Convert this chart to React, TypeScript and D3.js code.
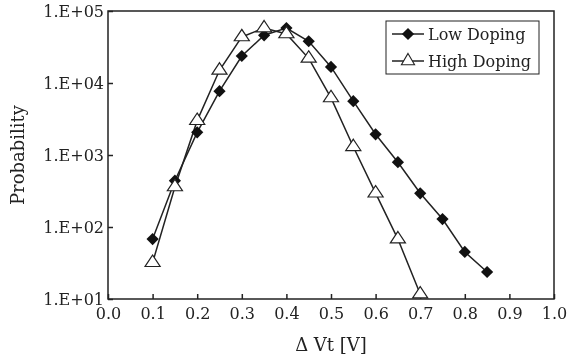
import * as d3 from "d3";
import React, { useEffect, useRef } from "react";

const xValues = [0.1, 0.15, 0.2, 0.25, 0.3, 0.35, 0.4, 0.45, 0.5, 0.55, 0.6, 0.65, 0.7, 0.75, 0.8, 0.85];
const lowDoping = [68, 440, 2065, 7700, 23700, 46000, 58000, 38000, 16700, 5600, 1940, 794, 294, 129, 45, 23.7];
const highDoping = [32, 360, 3000, 15000, 43600, 58000, 48000, 22000, 6200, 1300, 295, 68, 11.7];
const xTicks = [0, 0.1, 0.2, 0.3, 0.4, 0.5, 0.6, 0.7, 0.8, 0.9, 1.0];
const yTicks = [10, 100, 1000, 10000, 100000];
const yTickLabels = ["1.E+01", "1.E+02", "1.E+03", "1.E+04", "1.E+05"];

const App = () => {
  const svgRef = useRef<SVGSVGElement>(null);

  useEffect(() => {
    const svg = d3.select(svgRef.current);
    svg.selectAll("*").remove();
    const width = 567;
    const height = 360;
    const margin = { top: 11, right: 13, bottom: 61, left: 108 };
    const innerWidth = width - margin.left - margin.right;
    const innerHeight = height - margin.top - margin.bottom;
    const font = "'DejaVu Serif', serif";
    const ink = "#222";

    const x = d3.scaleLinear().domain([0, 1]).range([0, innerWidth]);
    const y = d3.scaleLog().domain([10, 100000]).range([innerHeight, 0]);

    const g = svg.append("g").attr("transform", `translate(${margin.left},${margin.top})`);

    // frame
    g.append("rect")
      .attr("width", innerWidth)
      .attr("height", innerHeight)
      .attr("fill", "none")
      .attr("stroke", ink)
      .attr("stroke-width", 1.5);

    // x axis (ticks inward)
    const xAxis = g.append("g")
      .attr("transform", `translate(0,${innerHeight})`)
      .call(d3.axisBottom(x).tickValues(xTicks).tickFormat(d3.format(".1f")).tickSizeInner(-5).tickSizeOuter(0).tickPadding(9));
    xAxis.select(".domain").remove();
    xAxis.selectAll("line").attr("stroke", ink).attr("stroke-width", 1.5);
    xAxis.selectAll("text").attr("font-family", font).attr("font-size", 16).attr("fill", ink);

    // y axis (ticks inward)
    const yAxis = g.append("g")
      .call(d3.axisLeft(y).tickValues(yTicks).tickFormat((d, i) => yTickLabels[i]).tickSizeInner(-5).tickSizeOuter(0).tickPadding(4));
    yAxis.select(".domain").remove();
    yAxis.selectAll("line").attr("stroke", ink).attr("stroke-width", 1.5);
    yAxis.selectAll("text").attr("font-family", font).attr("font-size", 16).attr("fill", ink);

    const line = d3.line<number>().x((d, i) => x(xValues[i])).y((d) => y(d));

    g.append("path")
      .datum(lowDoping)
      .attr("d", line)
      .attr("fill", "none")
      .attr("stroke", ink)
      .attr("stroke-width", 1.5);
    g.append("path")
      .datum(highDoping)
      .attr("d", line)
      .attr("fill", "none")
      .attr("stroke", ink)
      .attr("stroke-width", 1.5);

    const diamond = d3.symbol().type(d3.symbolDiamond2).size(95);
    const triangle = d3.symbol().type(d3.symbolTriangle).size(75);

    g.selectAll(".low")
      .data(lowDoping)
      .enter()
      .append("path")
      .attr("class", "low")
      .attr("d", diamond)
      .attr("transform", (d, i) => `translate(${x(xValues[i])},${y(d)})`)
      .attr("fill", "#111");

    g.selectAll(".high")
      .data(highDoping)
      .enter()
      .append("path")
      .attr("class", "high")
      .attr("d", triangle)
      .attr("transform", (d, i) => `translate(${x(xValues[i])},${y(d)}) scale(1.15,1)`)
      .attr("fill", "#fff")
      .attr("stroke", ink)
      .attr("stroke-width", 1.1);

    // legend
    const lg = svg.append("g").attr("transform", "translate(386,21)");
    lg.append("rect").attr("width", 153).attr("height", 53).attr("fill", "#fff").attr("stroke", ink).attr("stroke-width", 1);
    const items = [
      { label: "Low Doping", sym: diamond, fill: "#111" },
      { label: "High Doping", sym: triangle, fill: "#fff" },
    ];
    items.forEach((it, i) => {
      const cy = 13 + i * 27;
      lg.append("line").attr("x1", 6).attr("x2", 38).attr("y1", cy).attr("y2", cy).attr("stroke", ink).attr("stroke-width", 1.5);
      lg.append("path")
        .attr("d", it.sym)
        .attr("transform", `translate(22,${cy})`)
        .attr("fill", it.fill)
        .attr("stroke", it.fill === "#fff" ? ink : "none")
        .attr("stroke-width", 1.1);
      lg.append("text")
        .attr("x", 42)
        .attr("y", cy)
        .attr("dy", "0.35em")
        .attr("font-family", font)
        .attr("font-size", 16)
        .attr("fill", ink)
        .text(it.label);
    });

    // axis titles
    svg.append("text")
      .attr("transform", `translate(24,${margin.top + innerHeight / 2}) rotate(-90)`)
      .attr("text-anchor", "middle")
      .attr("font-family", font)
      .attr("font-size", 18)
      .attr("fill", ink)
      .text("Probability");
    svg.append("text")
      .attr("x", margin.left + innerWidth / 2)
      .attr("y", 351)
      .attr("text-anchor", "middle")
      .attr("font-family", font)
      .attr("font-size", 18)
      .attr("fill", ink)
      .text("\u0394 Vt [V]");
  }, []);

  return <svg ref={svgRef} width="567" height="360" style={{ position: "fixed", left: 0, top: 0 }}></svg>;
};

export default App;
